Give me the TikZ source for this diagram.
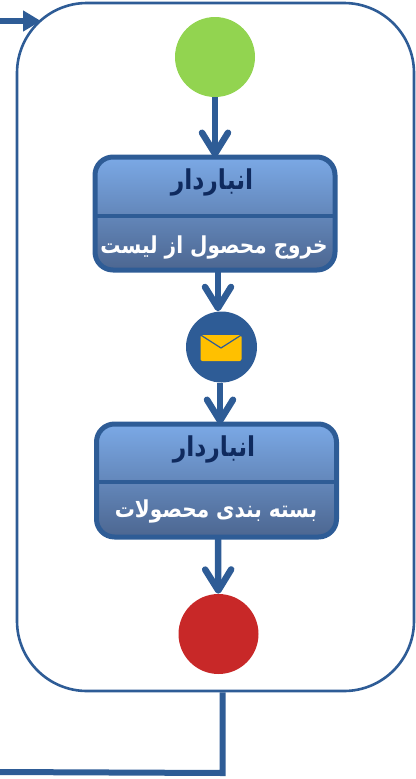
\documentclass[tikz,border=0pt]{standalone}
\usepackage{fontspec}
\usetikzlibrary{arrows.meta}
\TeXXeTstate=1
\newfontfamily\farsifont[Script=Arabic,FakeStretch=0.86]{DejaVu Sans}
\definecolor{flowblue}{HTML}{2E5C96}
\definecolor{startgreen}{HTML}{92D450}
\definecolor{stopred}{HTML}{C82828}
\definecolor{mailyellow}{HTML}{FFC000}
\definecolor{titlenavy}{HTML}{0F2A5E}
\definecolor{boxtop}{HTML}{7BA9E6}
\definecolor{boxbottom}{HTML}{4C6690}
\def\px{0.75pt}
\tikzset{
  panelbox/.style={draw=flowblue,line width=2.6*\px,rounded corners=70*\px,inner sep=0,
    minimum width=397*\px,minimum height=688*\px},
  dot/.style={circle,fill=#1,inner sep=0,minimum size=80*\px},
  taskbox/.style={draw=flowblue,line width=5*\px,rounded corners=18*\px,inner sep=0,outer sep=0,
    top color=boxtop,bottom color=boxbottom,
    minimum width=240*\px,minimum height=113*\px},
  roletext/.style={text=titlenavy,font=\farsifont\bfseries\fontsize{20.5}{22}\selectfont,inner sep=0},
  jobtext/.style={text=white,font=\farsifont\bfseries\fontsize{17.5}{20}\selectfont,inner sep=0},
  flow/.style={draw=flowblue,line width=6.5*\px,-{Straight Barb[length=21*\px,width=26*\px,round]}},
  linkline/.style={draw=flowblue,line width=6*\px},
}
\begin{document}
\begin{tikzpicture}[x=\px,y=-\px]
\useasboundingbox (0,0) rectangle (415,779);
\node[panelbox] (panel) at (215.5,347) {};
\node[dot=startgreen] (start) at (215,57) {};
\node[taskbox] (packlist) at (215,213.5) {};
\draw[flowblue,line width=3.5*\px] (95,216) -- (335,216);
\node[roletext] (role1) at (212,182) {\beginR انباردار\endR};
\node[jobtext] (job1) at (214,247) {\beginR خروج محصول از لیست\endR};
\node[dot=flowblue,minimum size=71*\px] (msg) at (221.5,347) {};
% envelope
\node[fill=mailyellow,rounded corners=2*\px,inner sep=0,minimum width=41*\px,minimum height=26*\px] (mail) at (221,348) {};
\draw[flowblue,line width=1.2*\px] (mail.north west) -- (mail.center) -- (mail.north east);
\node[taskbox] (packing) at (216.5,480.5) {};
\draw[flowblue,line width=3.5*\px] (97,482) -- (336,482);
\node[roletext] (role2) at (214,449) {\beginR انباردار\endR};
\node[jobtext] (job2) at (216,511) {\beginR بسته بندی محصولات\endR};
\node[dot=stopred] (stop) at (218.5,634) {};
% connectors
\draw[flow] (start) -- (packlist.north -| start);
\draw[flow] (packlist.south -| 218,0) -- (msg.north -| 218,0);
\draw[flow] (msg.south -| 220,0) -- (packing.north -| 220,0);
\draw[flow] (packing.south -| 218,0) -- (stop);
% way in and way out
\coordinate (entry) at (0,21);
\coordinate (entryend) at (41,21);
\coordinate (exitturn) at (222.5,773);
\coordinate (exitend) at (0,772);
\draw[linkline,-{Triangle[length=18*\px,width=20*\px]}] (entry) -- (entryend);
\draw[linkline] (panel.south -| exitturn) -- (exitturn) -- (exitend);
\end{tikzpicture}
\end{document}
